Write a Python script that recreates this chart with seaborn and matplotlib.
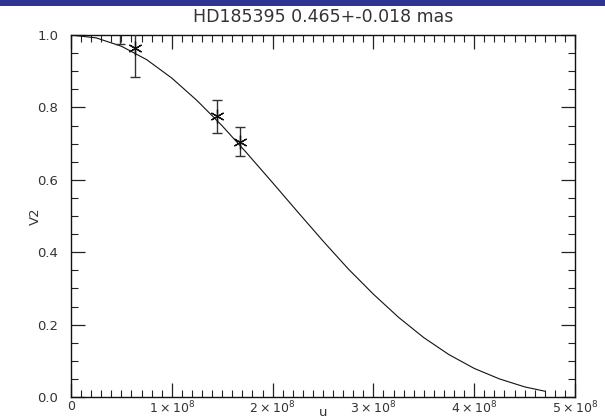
import numpy as np
import pandas as pd
import matplotlib
matplotlib.use("Agg")
import matplotlib.pyplot as plt
import seaborn as sns
from matplotlib.ticker import MultipleLocator, FixedLocator, FixedFormatter
from matplotlib.patches import Rectangle

# --- data ---
title = "HD185395 0.465+-0.018 mas"
# model curve (u in units of 1e8, V2)
curve_u = [0.0, 0.25, 0.5, 0.75, 1.0, 1.25, 1.5, 1.75, 2.0, 2.25, 2.5, 2.75,
           3.0, 3.25, 3.5, 3.75, 4.0, 4.25, 4.5, 4.7]
curve_v2 = [1.0, 0.992, 0.969, 0.932, 0.881, 0.819, 0.749, 0.672, 0.592, 0.511,
            0.431, 0.354, 0.284, 0.220, 0.164, 0.117, 0.079, 0.050, 0.028, 0.016]
# measured points
obs_u = [0.49, 0.635, 1.45, 1.68]
obs_v2 = [1.02, 0.963, 0.775, 0.705]
obs_err = [0.045, 0.08, 0.045, 0.04]
xtick_vals = [0, 1, 2, 3, 4, 5]
xtick_labels = ["0", r"$1\times10^{8}$", r"$2\times10^{8}$", r"$3\times10^{8}$",
                r"$4\times10^{8}$", r"$5\times10^{8}$"]
ytick_vals = [0.0, 0.2, 0.4, 0.6, 0.8, 1.0]
ytick_labels = ["0.0", "0.2", "0.4", "0.6", "0.8", "1.0"]

sns.set_style("ticks")
plt.rcParams["font.family"] = ["DejaVu Sans"]
plt.rcParams["mathtext.fontset"] = "dejavusans"

fig = plt.figure(figsize=(6.05, 4.18), dpi=100)
ax = fig.add_axes([71/605, 21/418, 504/605, 362/418])

# blue header bar
fig.patches.append(Rectangle((0, 1 - 6/418), 1, 6/418, transform=fig.transFigure,
                             facecolor="#2e3590", edgecolor="none", zorder=10))

curve = pd.DataFrame({"u": curve_u, "v2": curve_v2})
sns.lineplot(data=curve, x="u", y="v2", ax=ax, color="#111111", linewidth=0.8,
             estimator=None, sort=False)

ax.errorbar(obs_u, obs_v2, yerr=obs_err, fmt="none", ecolor="#333333",
            elinewidth=1.0, capsize=3.5, capthick=1.0, zorder=3)
pts = pd.DataFrame({"u": obs_u, "v2": obs_v2})
sns.scatterplot(data=pts, x="u", y="v2", ax=ax, marker=(6, 2, 0), s=90,
                color="#111111", linewidth=0.9, zorder=4)

ax.set_xlim(0, 5)
ax.set_ylim(0, 1.0)
ax.xaxis.set_major_locator(FixedLocator(xtick_vals))
ax.xaxis.set_major_formatter(FixedFormatter(xtick_labels))
ax.xaxis.set_minor_locator(MultipleLocator(0.1))
ax.yaxis.set_major_locator(FixedLocator(ytick_vals))
ax.yaxis.set_major_formatter(FixedFormatter(ytick_labels))
ax.yaxis.set_minor_locator(MultipleLocator(0.05))

ax.tick_params(which="both", direction="in", top=True, right=True,
               colors="#222222", labelcolor="#333333", labelsize=9.5)
ax.tick_params(which="major", length=10, width=0.9)
ax.tick_params(which="minor", length=5, width=0.8)
ax.tick_params(axis="x", which="major", pad=2, labelsize=9)
ax.tick_params(axis="y", which="major", pad=9)
for s in ax.spines.values():
    s.set_linewidth(1.0)
    s.set_color("#111111")

ax.set_xlabel("u", fontsize=9.5, color="#333333")
ax.xaxis.set_label_coords(0.5, -0.025)
ax.set_ylabel("V2", fontsize=9.5, color="#333333")
ax.yaxis.set_label_coords(-0.058, 0.5)
ax.set_title(title, fontsize=12.5, color="#333333", pad=9)

fig.savefig("out.png", dpi=100)
